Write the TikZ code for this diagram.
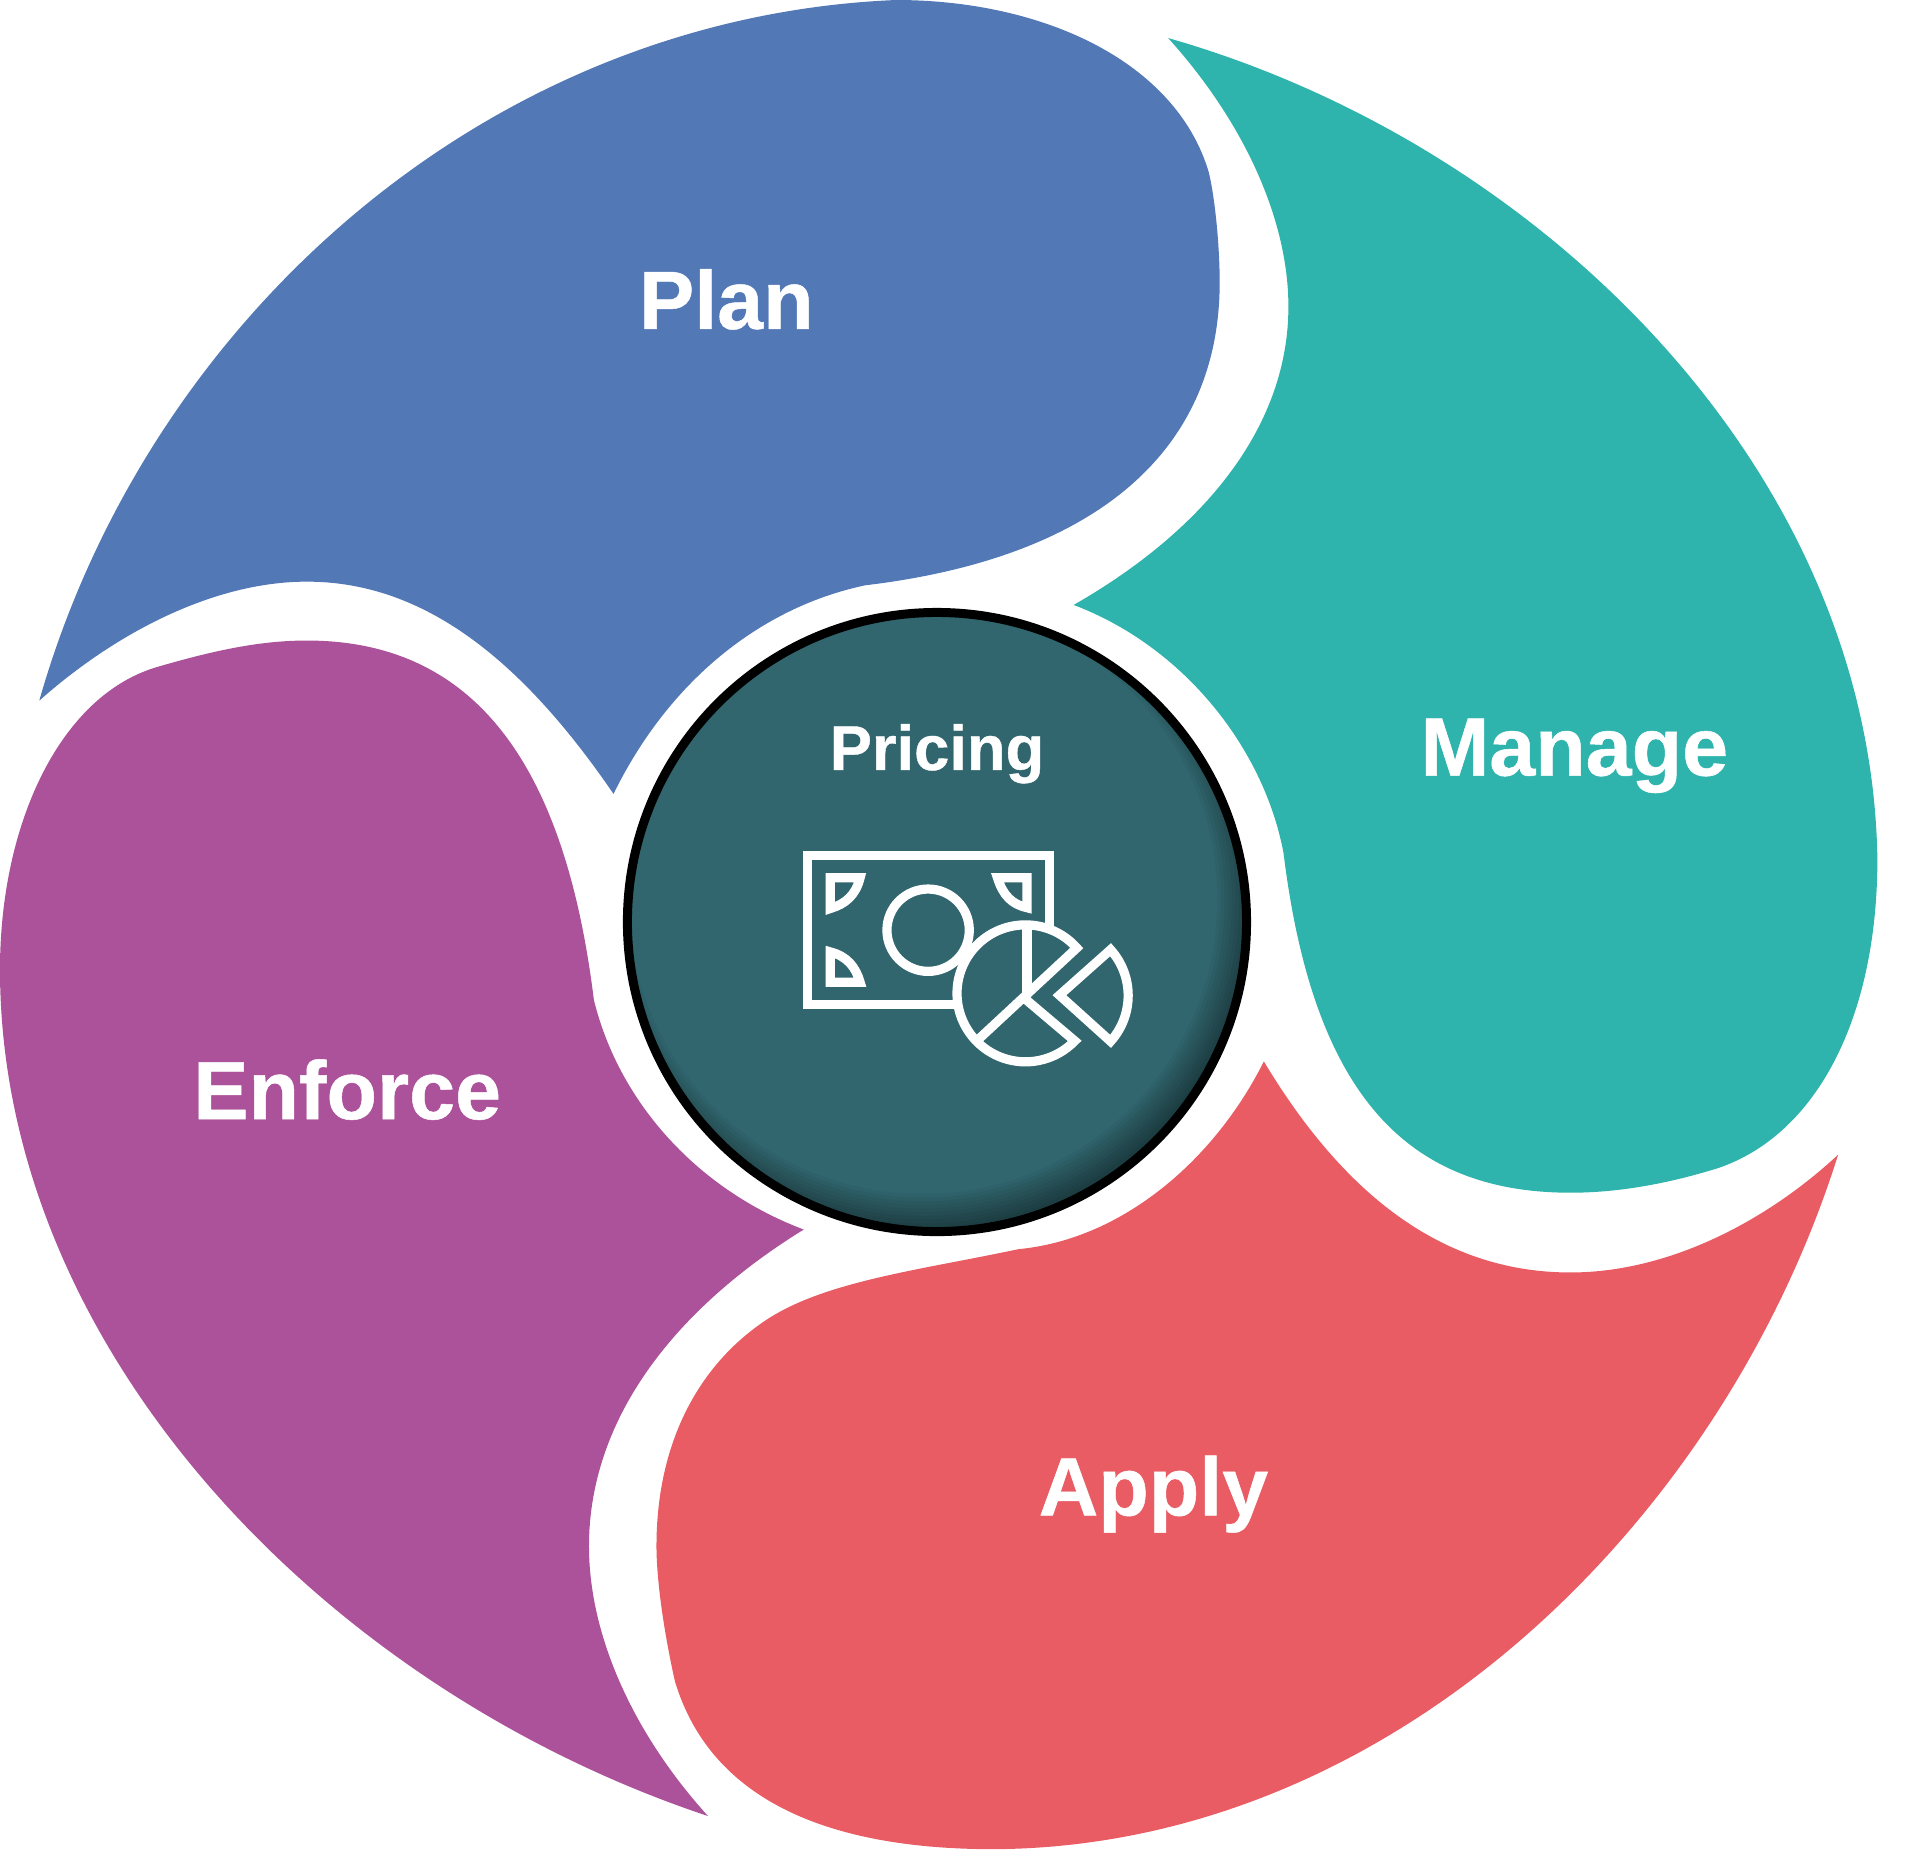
\documentclass[tikz,border=0pt]{standalone}
\usepackage{fontspec}
\setmainfont{Liberation Sans}[BoldFeatures={FakeBold=0.6}]
\definecolor{planblue}{HTML}{5278B6}
\definecolor{manageteal}{HTML}{2EB4AC}
\definecolor{applyred}{HTML}{E95C64}
\definecolor{enforcepurple}{HTML}{AB529A}
\definecolor{hubgreen}{HTML}{31666E}
\begin{document}
\begin{tikzpicture}
      [x=0.01227cm,y=-0.01227cm,
       big/.style={font=\fontsize{23.5}{23.5}\selectfont\bfseries,text=white,anchor=base,inner sep=0pt},
       small/.style={font=\fontsize{18}{18}\selectfont\bfseries,text=white,anchor=base,inner sep=0pt},
       hub/.style={circle,draw=black,line width=0.09cm,fill=hubgreen,minimum size=6.19cm},
       icon/.style={draw=white,line width=0.092cm,line join=miter}]
      \useasboundingbox (0,0) rectangle (1568,1508);
      % petals
      \fill[planblue] (32,571) .. controls (120,262) and (395,14) .. (730,0)
        .. controls (850,0) and (958,50) .. (985,140)
        .. controls (990,160) and (994,200) .. (994,230)
        .. controls (994,370) and (890,455) .. (705,477)
        .. controls (620,495) and (545,555) .. (500,647)
        .. controls (420,530) and (340,474) .. (250,474)
        .. controls (175,474) and (95,515) .. (32,571) -- cycle;
      \fill[manageteal] (952,31) .. controls (1257,118) and (1525,384) .. (1530,700)
        .. controls (1530,830) and (1480,925) .. (1400,952)
        .. controls (1355,966) and (1315,972) .. (1280,972)
        .. controls (1145,972) and (1070,890) .. (1046,695)
        .. controls (1030,610) and (965,527) .. (875,493)
        .. controls (985,430) and (1050,345) .. (1050,250)
        .. controls (1050,175) and (1010,95) .. (952,31) -- cycle;
      \fill[applyred] (1498,941) .. controls (1404,1240) and (1135,1505) .. (810,1507)
        .. controls (680,1507) and (580,1470) .. (550,1370)
        .. controls (540,1325) and (535,1285) .. (535,1260)
        .. controls (535,1175) and (570,1112) .. (624,1076)
        .. controls (672,1044) and (750,1035) .. (830,1018)
        .. controls (915,1010) and (990,945) .. (1030,865)
        .. controls (1105,990) and (1190,1037) .. (1280,1037)
        .. controls (1360,1037) and (1440,995) .. (1498,941) -- cycle;
      \fill[enforcepurple] (577,1480) .. controls (262,1375) and (0,1098) .. (0,790)
        .. controls (0,670) and (50,565) .. (130,543)
        .. controls (175,530) and (212,522) .. (250,522)
        .. controls (385,522) and (460,620) .. (484,815)
        .. controls (505,900) and (570,970) .. (655,1002)
        .. controls (545,1070) and (480,1160) .. (480,1260)
        .. controls (480,1335) and (518,1415) .. (577,1480) -- cycle;
      \node[big] (plan) at (592,268) {Plan};
      \node[big] (manage) at (1283,632) {Manage};
      \node[big] (enforce) at (283,912) {Enforce};
      \node[big] (apply) at (940,1235) {Apply};
      % centre
      \node[hub] (pricinghub) at (763.6,751.4) {};
      \begin{scope}
        \clip (763.6,751.4) circle (252);
        \foreach \dd in {3,6,...,33}
          \fill[black,opacity=0.045,even odd rule] (500,490) rectangle (1030,1020)
            (752,733) circle ({273-\dd});
      \end{scope}
      \node[small] (pricing) at (763.6,627.5) {Pricing};
      % icon, drawn on the zoomed grid
      \begin{scope}[shift={(489,480.8)},x=0.004336cm,y=-0.004336cm]
        \draw[icon] (1037,785) -- (1037,613) -- (478,613) -- (478,957) -- (825,957);
        \draw[icon] (757,785) circle (95);
        \draw[icon] (531,664) -- (600,664) .. controls (590,705) and (565,725) .. (531,735) -- cycle;
        \draw[icon] (985,664) -- (917,664) .. controls (930,705) and (950,725) .. (985,733) -- cycle;
        \draw[icon] (531,905) -- (600,905) .. controls (590,870) and (570,845) .. (531,835) -- cycle;
        \draw[icon] (875,1035) -- (1100,826) arc[start angle=-41.5,end angle=-316,radius=158] -- (985,947);
        \draw[icon] (985,780) -- (985,930);
        \draw[icon] (1060,935) -- (1178,830) arc[start angle=-42,end angle=42,radius=158] -- cycle;
      \end{scope}
\end{tikzpicture}
\end{document}
